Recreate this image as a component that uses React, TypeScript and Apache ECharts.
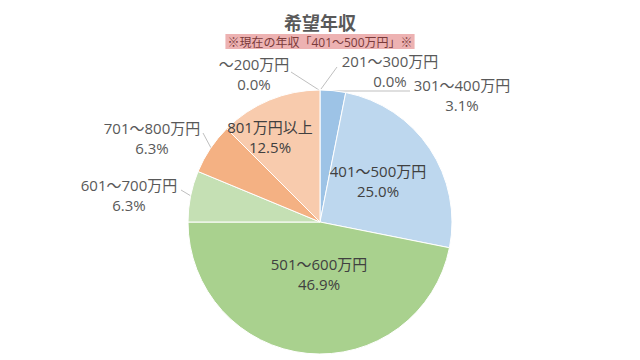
import React, { useEffect, useRef } from "react";
import * as echarts from "echarts";

const categories = [
  "～200万円",
  "201～300万円",
  "301～400万円",
  "401～500万円",
  "501～600万円",
  "601～700万円",
  "701～800万円",
  "801万円以上",
];
const counts = [0, 0, 1, 8, 15, 2, 2, 4];
const colors = ["#7FA7D6", "#8CB4E0", "#9DC3E6", "#BDD7EE", "#A9D18E", "#C5E0B4", "#F4B183", "#F8CBAD"];
const insideLabel = [false, false, false, true, true, false, false, true];

const titleText = "希望年収";
const subText = "※現在の年収「401～500万円」※";

// label anchor positions (layout only)
const labelPos: number[][] = [
  [254, 74],
  [390, 71],
  [462, 95],
  [378, 181],
  [319, 274],
  [129, 195],
  [152, 138],
  [270, 137],
];
const linePts: (number[][] | null)[] = [
  [[291, 72], [319, 90]],
  [[321, 89], [337, 67]],
  [[333, 91], [410, 91]],
  null,
  null,
  [[181, 190], [191, 196]],
  [[203, 133], [211, 148]],
  null,
];

export default function App() {
  const ref = useRef<HTMLDivElement>(null);
  useEffect(() => {
    if (!ref.current) return;
    const chart = echarts.init(ref.current, null, { renderer: "svg" });
    const total = counts.reduce((a, b) => a + b, 0);
    const font = '"Open Sans", "Noto Sans CJK JP", sans-serif';
    chart.setOption({
      animation: false,
      backgroundColor: "#FFFFFF",
      title: [
        {
          text: titleText,
          left: "center",
          top: 13,
          padding: 0,
          textStyle: { fontFamily: font, fontSize: 18, lineHeight: 19, fontWeight: "bold", color: "#595959" },
        },
        {
          text: subText,
          left: "center",
          top: 34,
          padding: [1, 2, 0, 2],
          backgroundColor: "#EDB2B2",
          textStyle: {
            fontFamily: font,
            fontSize: 12,
            fontWeight: "normal",
            color: "#7A3A3A",
            lineHeight: 14,
          },
        },
      ],
      series: [
        {
          type: "pie",
          center: [320, 222],
          radius: 132,
          startAngle: 90,
          clockwise: true,
          avoidLabelOverlap: false,
          itemStyle: { borderColor: "#FFFFFF", borderWidth: 1 },
          label: {
            show: true,
            fontFamily: font,
            fontSize: 15,
            lineHeight: 20,
            color: "#595959",
            formatter: (p: any) => `${p.name}\n${((p.value / total) * 100).toFixed(1)}%`,
          },
          labelLine: { show: true, lineStyle: { color: "#BFBFBF", width: 1 }, length: 10, length2: 10 },
          labelLayout: (p: any) => {
            const i = p.dataIndex;
            const o: any = {
              x: labelPos[i][0],
              y: labelPos[i][1],
              align: "center",
              verticalAlign: "middle",
            };
            if (linePts[i]) o.labelLinePoints = linePts[i];
            return o;
          },
          data: categories.map((c, i) => ({
            name: c,
            value: counts[i],
            itemStyle: { color: colors[i] },
            label: insideLabel[i] ? { color: "#404040" } : {},
            labelLine: { show: !insideLabel[i] },
          })),
        },
      ],
    });
    return () => chart.dispose();
  }, []);
  return <div ref={ref} style={{ position: "fixed", left: 0, top: 0, width: 640, height: 360 }} />;
}
